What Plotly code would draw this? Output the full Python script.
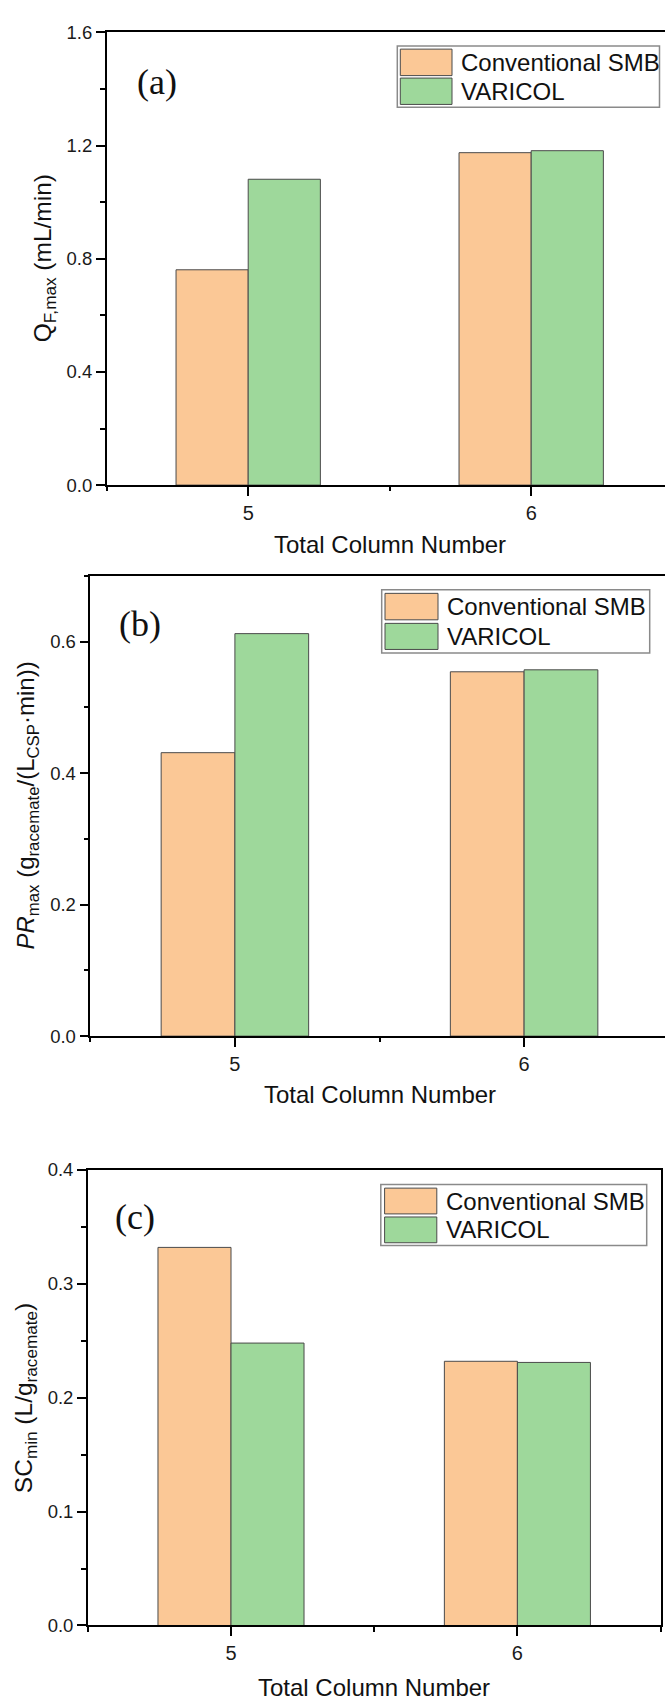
import plotly.graph_objects as go

# ---------------- data ----------------
columns = [5, 6]
series_names = ["Conventional SMB", "VARICOL"]

qf_smb = [0.761, 1.175]
qf_varicol = [1.081, 1.182]

pr_smb = [0.431, 0.554]
pr_varicol = [0.612, 0.557]

sc_smb = [0.332, 0.232]
sc_varicol = [0.248, 0.231]

panel_labels = ["(a)", "(b)", "(c)"]
y_titles = [
    "Q<sub>F,max</sub> (mL/min)",
    "<i>PR</i><sub>max</sub> (g<sub>racemate</sub>/(L<sub>CSP</sub>·min))",
    "SC<sub>min</sub> (L/g<sub>racemate</sub>)",
]
x_title = "Total Column Number"

# ---------------- style ----------------
W, H = 665, 1707
ORANGE = "#FBC896"
GREEN = "#9ED89B"
EDGE = "#4a4a4a"
FONT = "Liberation Sans, Arial, sans-serif"
SERIF = "Liberation Serif, Times New Roman, serif"
colors = [ORANGE, GREEN]


def px(x):
    return x / W


def py(y):
    return 1 - y / H


fig = go.Figure()

panels = [
    dict(vals=[qf_smb, qf_varicol], xdom=[px(106.7), 1.0], xr=[4.5, 4.5 + (665 - 106.7) / 283.0],
         xcenter=390.1, ydom=[py(480.0), py(21.7)], yr=[0, 1.6], dtick=0.4, minor=0.2, mirror_y=False,
         ytitle_x=44.5, ytitle_size=24.5, xtitle_y=540.0, lab=(156.5, 71.4),
         leg=dict(box=(397.3, 35.5, 659.5, 97.5), sw=(400.3, 452.0), swy=[(38.6, 65.4), (67.9, 94.6)], tx=459.0)),
    dict(vals=[pr_smb, pr_varicol], xdom=[px(90.3), 1.0], xr=[4.5, 4.5 + (665 - 90.3) / 289.2],
         xcenter=380.0, ydom=[py(1037.9), py(571.8)], yr=[0, 0.7], dtick=0.2, minor=0.1, mirror_y=False,
         ytitle_x=27.6, ytitle_size=24, xtitle_y=1096.5, lab=(140.0, 620.7),
         leg=dict(box=(381.7, 586.0, 649.7, 650.0), sw=(385.0, 438.0), swy=[(589.6, 616.4), (620.0, 646.4)], tx=445.3)),
    dict(vals=[sc_smb, sc_varicol], xdom=[px(87.8), px(660.6)], xr=[4.5, 6.5],
         xcenter=374.2, ydom=[py(1634.6), py(1173.4)], yr=[0, 0.4], dtick=0.1, minor=0.05, mirror_y=True,
         ytitle_x=25.4, ytitle_size=24.5, xtitle_y=1697.0, lab=(134.6, 1221.0),
         leg=dict(box=(380.8, 1188.0, 646.7, 1250.0), sw=(384.6, 436.8), swy=[(1191.8, 1217.9), (1221.0, 1247.1)], tx=444.0)),
]

annotations = []
shapes = []

for i, p in enumerate(panels):
    n = "" if i == 0 else str(i + 1)
    xa = "x" + n
    ya = "y" + n
    for s in range(2):
        fig.add_trace(go.Bar(
            x=columns, y=p["vals"][s], name=series_names[s],
            marker=dict(color=colors[s], line=dict(color=EDGE, width=1)),
            xaxis=xa, yaxis=ya, showlegend=False, offsetgroup=str(s),
        ))
    axis_common = dict(showline=True, linecolor="black", linewidth=1.5, showgrid=False, zeroline=False,
                       ticks="outside", ticklen=9, tickwidth=1.5, tickcolor="black")
    fig.layout["xaxis" + n] = dict(
        axis_common, domain=p["xdom"], range=p["xr"], anchor=ya, mirror=True,
        tickmode="array", tickvals=columns, ticktext=[str(c) for c in columns],
        tickfont=dict(family=FONT, size=20, color="#1a1a1a"),
        minor=dict(tickvals=[4.5, 5.5, 6.5], ticks="outside", ticklen=4.5, tickwidth=1.5, tickcolor="black", showgrid=False),
    )
    fig.layout["yaxis" + n] = dict(
        axis_common, domain=p["ydom"], range=p["yr"], anchor=xa, mirror=p["mirror_y"],
        dtick=p["dtick"], tick0=0, tickformat=".1f",
        tickfont=dict(family=FONT, size=18.5, color="#1a1a1a"),
        minor=dict(dtick=p["minor"], tick0=0, ticks="outside", ticklen=5, tickwidth=1.5, tickcolor="black", showgrid=False),
    )
    # axis titles
    annotations.append(dict(text=y_titles[i], xref="paper", yref="paper", x=px(p["ytitle_x"]),
                            y=(p["ydom"][0] + p["ydom"][1]) / 2, textangle=-90, showarrow=False,
                            xanchor="center", yanchor="middle", font=dict(family=FONT, size=p["ytitle_size"], color="#111")))
    annotations.append(dict(text=x_title, xref="paper", yref="paper", x=px(p["xcenter"]),
                            y=py(p["xtitle_y"]), showarrow=False, xanchor="center", yanchor="middle",
                            font=dict(family=FONT, size=24, color="#111")))
    # panel label
    annotations.append(dict(text=panel_labels[i], xref="paper", yref="paper", x=px(p["lab"][0]), y=py(p["lab"][1]),
                            showarrow=False, xanchor="center", yanchor="middle",
                            font=dict(family=SERIF, size=36, color="#111")))
    # legend (drawn manually: large swatches like the original)
    lg = p["leg"]
    x0, y0, x1, y1 = lg["box"]
    shapes.append(dict(type="rect", xref="paper", yref="paper", x0=px(x0), x1=px(x1), y0=py(y1), y1=py(y0),
                       line=dict(color="#8a8a8a", width=1.5), fillcolor="white", layer="above"))
    for s in range(2):
        sy0, sy1 = lg["swy"][s]
        shapes.append(dict(type="rect", xref="paper", yref="paper", x0=px(lg["sw"][0]), x1=px(lg["sw"][1]),
                           y0=py(sy1), y1=py(sy0), line=dict(color=EDGE, width=1), fillcolor=colors[s], layer="above"))
        annotations.append(dict(text=series_names[s], xref="paper", yref="paper", x=px(lg["tx"]),
                                y=py((sy0 + sy1) / 2), showarrow=False, xanchor="left", yanchor="middle",
                                font=dict(family=FONT, size=24, color="#111")))

fig.update_layout(
    width=W, height=H, margin=dict(l=0, r=0, t=0, b=0),
    paper_bgcolor="white", plot_bgcolor="white",
    barmode="group", bargap=0.49, bargroupgap=0,
    annotations=annotations, shapes=shapes, showlegend=False,
)

fig.write_html("out.html")
